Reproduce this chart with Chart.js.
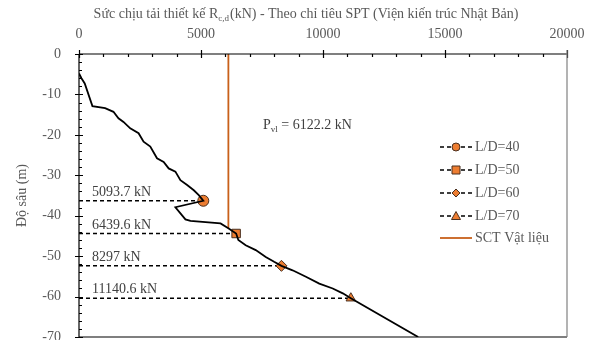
<!DOCTYPE html>
<html>
<head>
<meta charset="utf-8">
<script src="https://cdn.jsdelivr.net/npm/chart.js@4.4.1/dist/chart.umd.min.js"></script>
<style>
html, body { margin: 0; padding: 0; background: #fff; }
#wrap { width: 595px; height: 340px; }
</style>
</head>
<body>
<div id="wrap"><canvas id="chart" width="595" height="340"></canvas></div>
<script>
// đường sức chịu tải theo độ sâu
const curveLoad = [0, 100, 235, 550, 1070, 1412, 1617, 1823, 2099, 2442, 2646, 2922, 3197, 3469, 3675, 3951, 4156, 4432, 4705, 4909, 5093.7,
	3951, 4362, 4568, 5802, 6119, 6439.6, 6530, 6831, 7243, 7654, 7996, 8297, 8753, 9300, 9848, 10399, 10811, 11140.6, 13900];
const curveDepth = [-4.8, -6, -7.3, -12.9, -13.4, -14.3, -15.9, -16.8, -18.4, -19.6, -21.7, -22.9, -25.8, -26.7, -28.3, -29.1, -31.2, -32.4, -33.7, -34.9, -36.3,
	-37.9, -40.9, -41.3, -41.9, -43.1, -44.4, -46.0, -47.3, -48.5, -50.2, -51.4, -52.4, -53.5, -55.1, -56.8, -58.0, -59.2, -60.4, -70];

const ldNames = ['L/D=40', 'L/D=50', 'L/D=60', 'L/D=70'];
const ldLoad = [5093.7, 6439.6, 8297, 11140.6];
const ldDepth = [-36.3, -44.4, -52.4, -60.4];
const ldText = ['5093.7 kN', '6439.6 kN', '8297 kN', '11140.6 kN'];
const ldMarker = ['circle', 'rect', 'rectRot', 'triangle'];

const pvlLoad = 6122.2;
const pvlDepth = [0, -43.1];

const xTicks = [0, 5000, 10000, 15000, 20000];
const yTicks = [0, -10, -20, -30, -40, -50, -60, -70];

const ORANGE = '#ED7D31';
const SCT = '#C8601A';
const GREY = '#595959';
const FONT = "'Liberation Serif', 'Times New Roman', serif";

const datasets = [{
	label: 'curve',
	data: curveLoad.map((v, i) => ({ x: v, y: curveDepth[i] })),
	borderColor: '#000',
	borderWidth: 1.8,
	pointRadius: 0,
	tension: 0,
}, {
	label: 'SCT Vật liệu',
	data: pvlDepth.map(d => ({ x: pvlLoad, y: d })),
	borderColor: SCT,
	borderWidth: 1.8,
	pointRadius: 0,
}];

ldNames.forEach((name, i) => {
	datasets.push({
		label: name,
		data: [{ x: 0, y: ldDepth[i] }, { x: ldLoad[i], y: ldDepth[i] }],
		borderColor: '#000',
		borderWidth: 1.5,
		borderDash: [4, 3],
		pointRadius: [0, ldMarker[i] === 'rect' ? 6 : 5.5],
		pointStyle: ldMarker[i],
		pointBackgroundColor: ORANGE,
		pointBorderColor: '#4a3020',
		pointBorderWidth: 1,
	});
});

function drawLegendMarker(ctx, style, x, y) {
	ctx.save();
	ctx.fillStyle = ORANGE;
	ctx.strokeStyle = '#4a3020';
	ctx.lineWidth = 1;
	ctx.beginPath();
	if (style === 'circle') {
		ctx.arc(x, y, 4, 0, Math.PI * 2);
	} else if (style === 'rect') {
		ctx.rect(x - 4, y - 4, 8, 8);
	} else if (style === 'rectRot') {
		ctx.moveTo(x, y - 4); ctx.lineTo(x + 4, y); ctx.lineTo(x, y + 4); ctx.lineTo(x - 4, y); ctx.closePath();
	} else {
		ctx.moveTo(x, y - 4.5); ctx.lineTo(x + 4.5, y + 3.5); ctx.lineTo(x - 4.5, y + 3.5); ctx.closePath();
	}
	ctx.fill();
	ctx.stroke();
	ctx.restore();
}

const decorPlugin = {
	id: 'decor',
	afterDraw(chart) {
		const { ctx, chartArea: a, scales: { x, y } } = chart;
		ctx.save();

		// khung và vạch chia
		ctx.strokeStyle = '#000';
		ctx.lineWidth = 1.2;
		ctx.beginPath();
		ctx.moveTo(a.left, a.top); ctx.lineTo(a.right, a.top);
		ctx.moveTo(a.left, a.top); ctx.lineTo(a.left, a.bottom);
		ctx.moveTo(a.left, a.bottom); ctx.lineTo(a.right, a.bottom);
		for (let v = 0; v <= 20000; v += 1000) {
			const px = Math.round(x.getPixelForValue(v)) + 0.5;
			if (v % 5000 === 0) { ctx.moveTo(px, a.top - 4); ctx.lineTo(px, a.top + 4); }
			else { ctx.moveTo(px, a.top); ctx.lineTo(px, a.top + 3); }
		}
		for (let v = 0; v >= -70; v -= 2) {
			const py = Math.round(y.getPixelForValue(v)) + 0.5;
			if (v % 10 === 0) { ctx.moveTo(a.left - 4, py); ctx.lineTo(a.left + 4, py); }
			else { ctx.moveTo(a.left, py); ctx.lineTo(a.left + 3, py); }
		}
		ctx.stroke();
		ctx.strokeStyle = '#808080';
		ctx.beginPath();
		ctx.moveTo(a.right, a.top - 4); ctx.lineTo(a.right, a.bottom);
		ctx.stroke();

		// tiêu đề trục x (có chỉ số dưới)
		ctx.fillStyle = GREY;
		ctx.textBaseline = 'alphabetic';
		const t1 = 'Sức chịu tải thiết kế R';
		const t2 = '(kN) - Theo chỉ tiêu SPT (Viện kiến trúc Nhật Bản)';
		ctx.font = '14px ' + FONT;
		const w1 = ctx.measureText(t1).width;
		const w3 = ctx.measureText(t2).width;
		ctx.font = '9px ' + FONT;
		const w2 = ctx.measureText('c,d').width + 1;
		const tx = 306 - (w1 + w2 + w3) / 2;
		const ty = 18;
		ctx.font = '14px ' + FONT;
		ctx.textAlign = 'left';
		ctx.fillText(t1, tx, ty);
		ctx.font = '9px ' + FONT;
		ctx.fillText('c,d', tx + w1, ty + 3);
		ctx.font = '14px ' + FONT;
		ctx.fillText(t2, tx + w1 + w2, ty);

		// tiêu đề trục y
		ctx.save();
		ctx.translate(26, (a.top + a.bottom) / 2);
		ctx.rotate(-Math.PI / 2);
		ctx.textAlign = 'center';
		ctx.font = '14px ' + FONT;
		ctx.fillText('Độ sâu (m)', 0, 0);
		ctx.restore();

		// nhãn giá trị
		ctx.fillStyle = '#404040';
		ctx.font = '14px ' + FONT;
		ctx.textAlign = 'left';
		ldText.forEach((t, i) => {
			ctx.fillText(t, a.left + 13, y.getPixelForValue(ldDepth[i]) - 5);
		});

		// P_vl
		const px0 = 263, py0 = 129;
		ctx.font = '14px ' + FONT;
		ctx.fillText('P', px0, py0);
		const wp = ctx.measureText('P').width;
		ctx.font = '9px ' + FONT;
		ctx.fillText('vl', px0 + wp, py0 + 3);
		const wv = ctx.measureText('vl').width;
		ctx.font = '14px ' + FONT;
		ctx.fillText(' = ' + pvlLoad + ' kN', px0 + wp + wv, py0);

		// chú giải
		const lx = 440, lw = 32;
		const rows = [147, 170, 193, 216, 238];
		ctx.font = '14px ' + FONT;
		ctx.textBaseline = 'middle';
		ldNames.forEach((n, i) => {
			const ry = rows[i];
			ctx.strokeStyle = '#000';
			ctx.lineWidth = 1.5;
			ctx.setLineDash([4, 3]);
			ctx.beginPath();
			ctx.moveTo(lx, ry); ctx.lineTo(lx + lw, ry);
			ctx.stroke();
			ctx.setLineDash([]);
			drawLegendMarker(ctx, ldMarker[i], lx + lw / 2, ry);
			ctx.fillStyle = GREY;
			ctx.fillText(n, lx + lw + 3, ry);
		});
		ctx.strokeStyle = SCT;
		ctx.lineWidth = 1.8;
		ctx.beginPath();
		ctx.moveTo(lx, rows[4]); ctx.lineTo(lx + lw, rows[4]);
		ctx.stroke();
		ctx.fillStyle = GREY;
		ctx.fillText('SCT Vật liệu', lx + lw + 3, rows[4]);

		ctx.restore();
	},
};

new Chart(document.getElementById('chart'), {
	type: 'scatter',
	data: { datasets },
	options: {
		responsive: false,
		animation: false,
		devicePixelRatio: 1,
		showLine: true,
		layout: { autoPadding: false, padding: { left: 0, right: 28, top: 0, bottom: 3 } },
		plugins: {
			legend: { display: false },
			tooltip: { enabled: false },
		},
		scales: {
			x: {
				type: 'linear',
				position: 'top',
				min: 0,
				max: 20000,
				afterFit: s => { s.height = 54; s.paddingLeft = 0; s.paddingRight = 0; },
				afterBuildTicks: s => { s.ticks = xTicks.map(v => ({ value: v })); },
				ticks: { color: GREY, padding: 3, maxRotation: 0, callback: v => String(v), font: { family: FONT, size: 14 } },
				grid: { display: false },
				border: { display: false },
			},
			y: {
				type: 'linear',
				min: -70,
				max: 0,
				afterFit: s => { s.width = 79; s.paddingTop = 0; s.paddingBottom = 0; },
				afterBuildTicks: s => { s.ticks = yTicks.map(v => ({ value: v })); },
				ticks: { color: GREY, padding: 10, callback: v => String(v), font: { family: FONT, size: 14 } },
				grid: { display: false },
				border: { display: false },
			},
		},
	},
	plugins: [decorPlugin],
});
</script>
</body>
</html>
